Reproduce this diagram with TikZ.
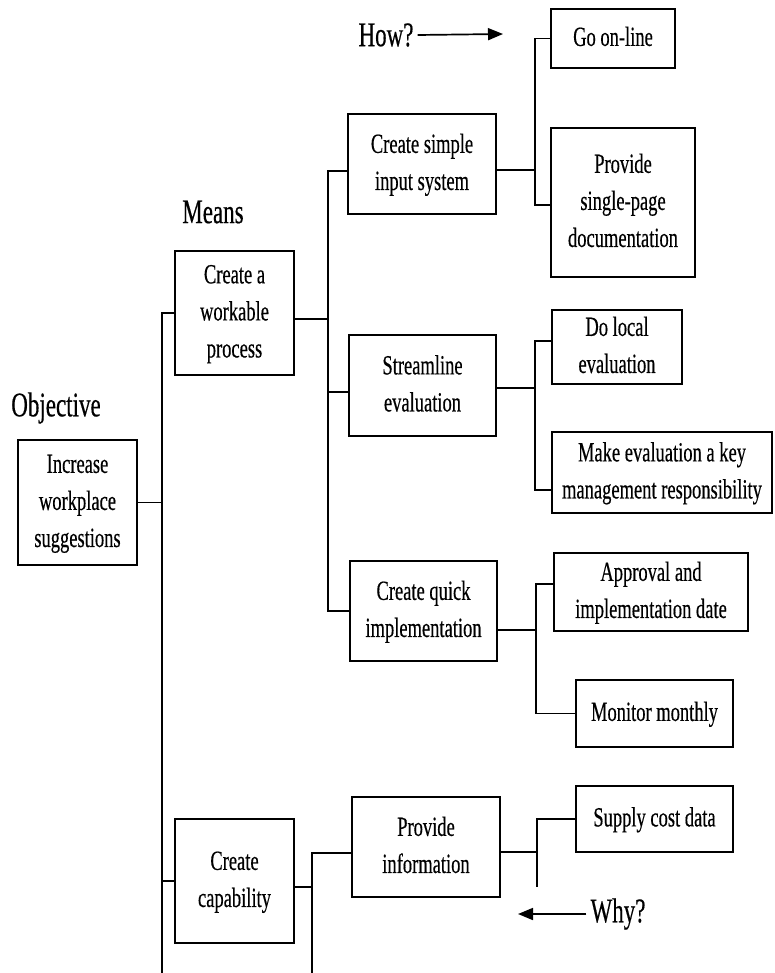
\documentclass[tikz,border=0pt]{standalone}
\usepackage{fontspec}
\setmainfont[FakeBold=0.5,AutoFakeBold=0.5]{Liberation Serif}
\usepackage{graphicx}
\usetikzlibrary{arrows.meta,calc}

% tall, narrow lettering used throughout the chart
\newcommand\boxtext[1]{\scalebox{1}[1.5]{\fontsize{18.5}{24.7}\selectfont\begin{tabular}{@{}c@{}}#1\end{tabular}}}
\newcommand\headtext[1]{\scalebox{1}[1.5]{\fontsize{23}{28}\selectfont #1}}

\begin{document}
\begin{tikzpicture}[x=1pt,y=-1pt,
  item/.style={draw=black, line width=2pt, inner sep=0pt, fill=white},
  conn/.style={draw=black, line width=1.7pt},
  heading/.style={inner sep=4pt},
  pointer/.style={conn, -{Triangle[length=15pt,width=12pt]}}]

\useasboundingbox (0,0) rectangle (774,973);

% column headings and direction hints
\node[heading] (objective) at (56,408) {\headtext{Objective}};
\node[heading] (means) at (213,212) {\headtext{Means}};
\node[heading] (how) at (386,35) {\headtext{How?}};
\node[heading] (why) at (618,914) {\headtext{Why?}};

% objective
\node[item, minimum width=119pt, minimum height=125pt] (inc) at (77.5,502.5)
  {\boxtext{Increase\\workplace\\suggestions}};

% means
\node[item, minimum width=119pt, minimum height=124pt] (work) at (234.5,313)
  {\boxtext{Create a\\workable\\process}};
\node[item, minimum width=119pt, minimum height=124pt] (cap) at (234.5,881)
  {\boxtext{Create\\capability}};

% second level
\node[item, minimum width=148pt, minimum height=100pt] (simp) at (422,164)
  {\boxtext{Create simple\\input system}};
\node[item, minimum width=147pt, minimum height=101pt] (strm) at (422.5,385.5)
  {\boxtext{Streamline\\evaluation}};
\node[item, minimum width=147pt, minimum height=100pt] (quick) at (423.5,611)
  {\boxtext{Create quick\\implementation}};
\node[item, minimum width=148pt, minimum height=100pt] (info) at (426,847)
  {\boxtext{Provide\\information}};

% third level
\node[item, minimum width=124pt, minimum height=59pt] (online) at (613,38.5)
  {\boxtext{Go on-line}};
\node[item, minimum width=144pt, minimum height=149pt] (doc) at (623,202.5)
  {\boxtext{Provide\\single-page\\documentation}};
\node[item, minimum width=130pt, minimum height=74pt] (local) at (617,347)
  {\boxtext{Do local\\evaluation}};
\node[item, minimum width=220pt, minimum height=81pt] (key) at (662,472.5)
  {\boxtext{Make evaluation a key\\management responsibility}};
\node[item, minimum width=194pt, minimum height=78pt] (appr) at (651,592)
  {\boxtext{Approval and\\implementation date}};
\node[item, minimum width=157pt, minimum height=67pt] (mon) at (654.5,713.5)
  {\boxtext{Monitor monthly}};
\node[item, minimum width=157pt, minimum height=66pt] (supply) at (654.5,819)
  {\boxtext{Supply cost data}};

% objective to means
\coordinate (bot1) at (162,973);
\draw[conn] (inc.east) -- (inc.east -| bot1);
\draw[conn] (work.west) -| (bot1);
\draw[conn] (cap.west) -- (cap.west -| bot1);

% workable process to its means
\draw[conn] ($(work.east)+(0,6)$) -- ++(33,0) coordinate (j2);
\draw[conn] ($(simp.west)+(0,7)$) -| (j2) |- (quick.west);
\coordinate (s2) at ($(strm.west)+(0,6.5)$);
\draw[conn] (s2) -- (s2 -| j2);

% capability to its means
\draw[conn] ($(cap.east)+(0,6)$) -- ++(18,0) coordinate (j6);
\coordinate (bot6) at (312,973);
\draw[conn] ($(info.west)+(0,6)$) -| (bot6);

% simple input system
\draw[conn] ($(simp.east)+(0,6)$) -- ++(38,0) coordinate (j3);
\draw[conn] (online.west) -| (j3) |- ($(doc.west)+(0,2.5)$);

% streamline evaluation
\draw[conn] ($(strm.east)+(0,2.5)$) -- ++(38,0) coordinate (j4);
\draw[conn] ($(local.west)+(0,-6)$) -| (j4) |- ($(key.west)+(0,17.5)$);

% quick implementation
\draw[conn] ($(quick.east)+(0,19)$) -- ++(38,0) coordinate (j5);
\draw[conn] ($(appr.west)+(0,-8)$) -| (j5) |- (mon.west);

% provide information
\draw[conn] ($(info.east)+(0,5)$) -- ++(36,0) coordinate (j7);
\draw[conn] (supply.west) -| (j7) -- ++(0,35) coordinate (e7);

% direction arrows
\coordinate (howend) at (503,34);
\draw[pointer] (how.east) -- (howend);
\coordinate (whyend) at (518,914);
\draw[pointer] (why.west) -- (whyend);

\end{tikzpicture}
\end{document}
